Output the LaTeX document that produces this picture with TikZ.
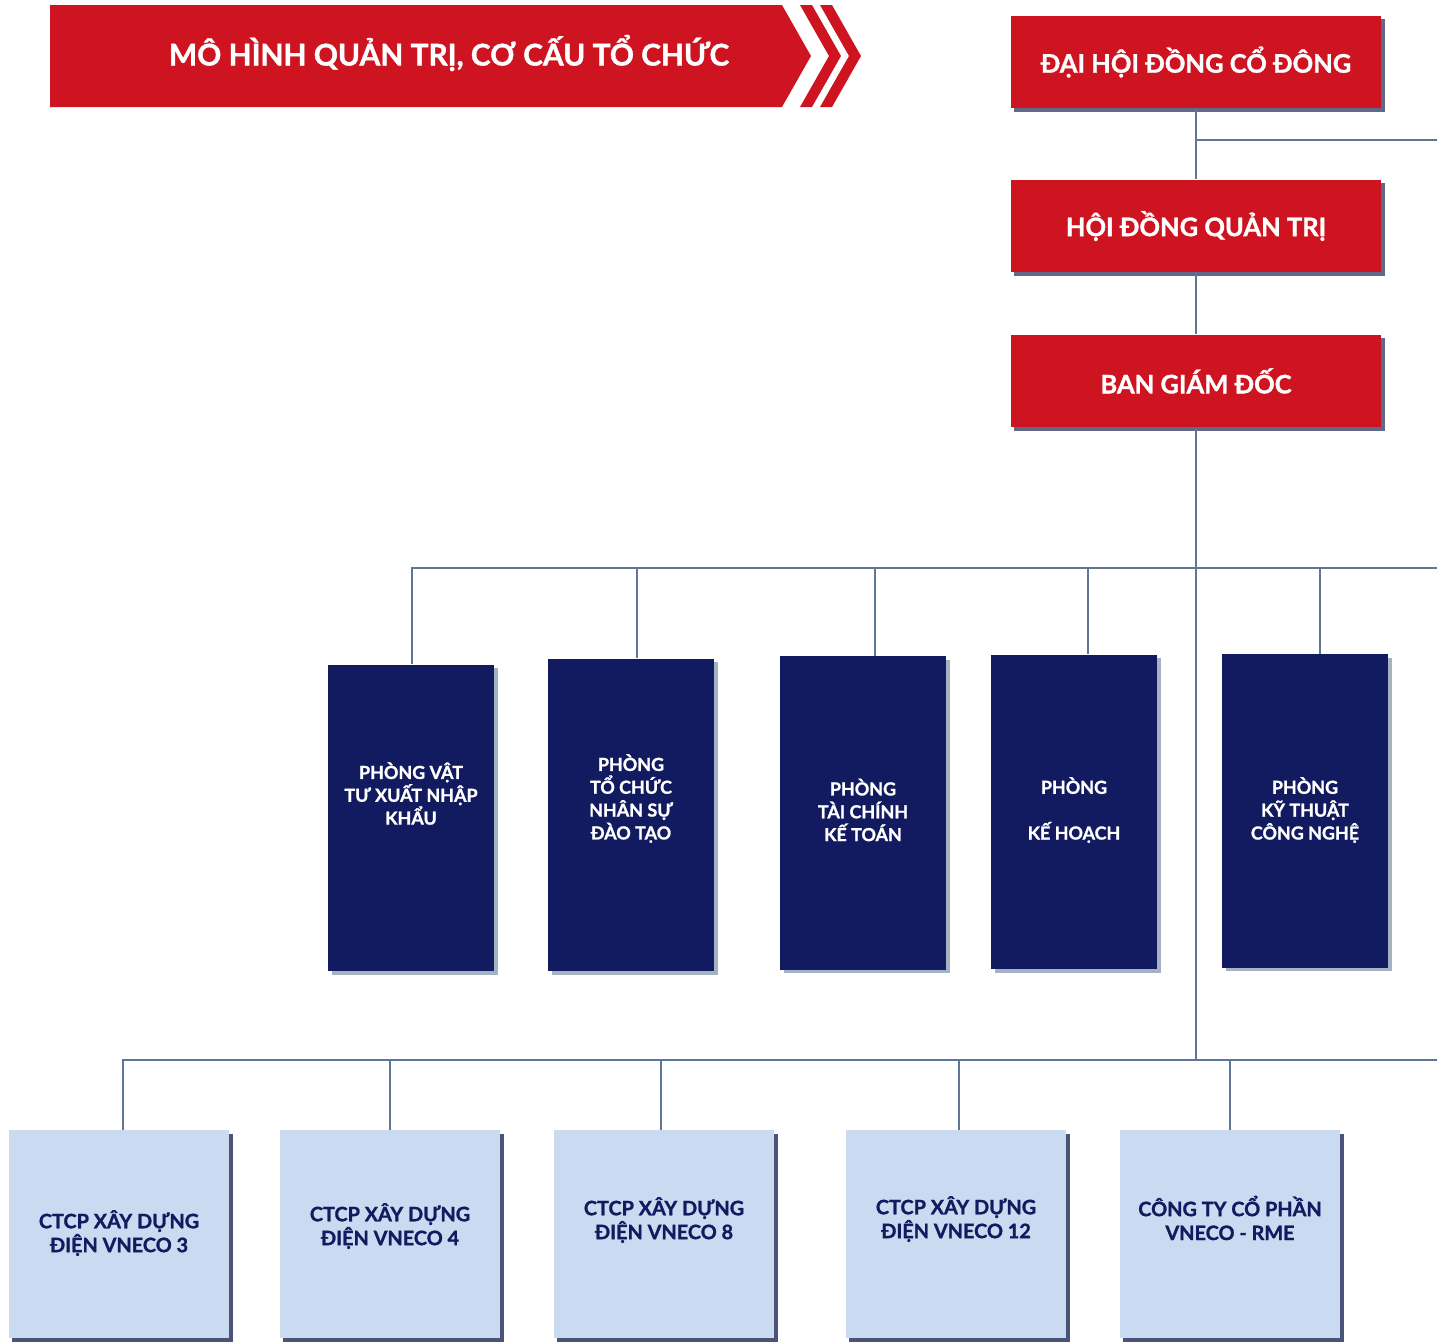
\documentclass[tikz,border=0pt]{standalone}
\usepackage{fontspec}
\setmainfont{Lato}[BoldFeatures={FakeBold=1.3}]
\usetikzlibrary{shadows}

\definecolor{vnred}{RGB}{206,20,32}
\definecolor{vnnavy}{RGB}{18,26,96}
\definecolor{vnlight}{RGB}{202,218,240}
\definecolor{vnline}{RGB}{96,118,150}
\definecolor{vnshade}{RGB}{44,54,96}

\tikzset{
	redbox/.style={fill=vnred, minimum width=7.42cm, minimum height=1.86cm, inner sep=0pt,
		text=white, font=\bfseries\fontsize{14.5}{16}\selectfont,
		drop shadow={shadow xshift=2pt, shadow yshift=-2pt, fill=vnshade, opacity=.75}},
	bluebox/.style={fill=vnnavy, minimum width=3.32cm, inner sep=0pt,
		drop shadow={shadow xshift=2pt, shadow yshift=-2pt, fill=vnline!70, opacity=.8}},
	bluetext/.style={text=white, align=center, inner sep=0pt, font=\bfseries\fontsize{10.2}{13}\selectfont},
	lightbox/.style={fill=vnlight, minimum width=4.42cm, minimum height=4.16cm, inner sep=0pt,
		drop shadow={shadow xshift=2pt, shadow yshift=-2pt, fill=vnshade, opacity=.85}},
	lighttext/.style={text=vnnavy, align=center, inner sep=0pt, font=\bfseries\fontsize{11.3}{13.6}\selectfont},
	link/.style={draw=vnline, line width=1.4pt}
}

\begin{document}
\begin{tikzpicture}[x=0.02cm, y=-0.02cm]
	\useasboundingbox (0,0) rectangle (1445,1343);

	% banner
	\fill[vnred] (50,5) -- (782,5) -- (811,56) -- (782,107) -- (50,107) -- cycle;
	\fill[vnred] (800,5) -- (812,5) -- (841,56) -- (812,107) -- (800,107) -- (829,56) -- cycle;
	\fill[vnred] (820,5) -- (832,5) -- (861,56) -- (832,107) -- (820,107) -- (849,56) -- cycle;
	\node[text=white, font=\bfseries\fontsize{17}{18}\selectfont] (title) at (449,53) {MÔ HÌNH QUẢN TRỊ, CƠ CẤU TỔ CHỨC};

	% ban lanh dao
	\node[redbox] (dhdcd) at (1196,62) {ĐẠI HỘI ĐỒNG CỔ ĐÔNG};
	\node[redbox] (hdqt) at (1196,226) {HỘI ĐỒNG QUẢN TRỊ};
	\node[redbox] (bgd) at (1196,381) {BAN GIÁM ĐỐC};

	% cac phong
	\node[bluebox, minimum height=6.14cm] (pvt) at (411,818) {};
	\node[bluebox, minimum height=6.26cm] (ptc) at (631,815) {};
	\node[bluebox, minimum height=6.28cm] (ptck) at (863,813) {};
	\node[bluebox, minimum height=6.30cm] (pkh) at (1074,812) {};
	\node[bluebox, minimum height=6.28cm] (pkt) at (1305,811) {};

	\node[bluetext] (tpvt) at ([yshift=0.49cm]pvt.center) {PHÒNG VẬT\\TƯ XUẤT NHẬP\\KHẨU};
	\node[bluetext] (tptc) at ([yshift=0.33cm]ptc.center) {PHÒNG\\TỔ CHỨC\\NHÂN SỰ\\ĐÀO TẠO};
	\node[bluetext] (tptck) at ([yshift=0.06cm]ptck.center) {PHÒNG\\TÀI CHÍNH\\KẾ TOÁN};
	\node[bluetext] (tpkh) at ([yshift=0.04cm]pkh.center) {PHÒNG\\[13pt]KẾ HOẠCH};
	\node[bluetext] (tpkt) at ([yshift=0.02cm]pkt.center) {PHÒNG\\KỸ THUẬT\\CÔNG NGHỆ};

	% cong ty con
	\node[lightbox] (vn3) at (119,1234) {};
	\node[lightbox] (vn4) at (390,1234) {};
	\node[lightbox] (vn8) at (664,1234) {};
	\node[lightbox] (vn12) at (956,1234) {};
	\node[lightbox] (rme) at (1230,1234) {};

	\node[lighttext] (tvn3) at ([yshift=0.02cm]vn3.center) {CTCP XÂY DỰNG\\ĐIỆN VNECO 3};
	\node[lighttext] (tvn4) at ([yshift=0.16cm]vn4.center) {CTCP XÂY DỰNG\\ĐIỆN VNECO 4};
	\node[lighttext] (tvn8) at ([yshift=0.28cm]vn8.center) {CTCP XÂY DỰNG\\ĐIỆN VNECO 8};
	\node[lighttext] (tvn12) at ([yshift=0.30cm]vn12.center) {CTCP XÂY DỰNG\\ĐIỆN VNECO 12};
	\node[lighttext] (trme) at ([yshift=0.32cm]rme.center) {CÔNG TY CỔ PHẦN\\VNECO - RME};

	% duong noi
	\coordinate (topR) at (1437,140);
	\coordinate (busU) at (1437,568);
	\coordinate (busL) at (1437,1060);

	\draw[link] (dhdcd.south) -- (hdqt.north);
	\draw[link] (hdqt.south) -- (bgd.north);
	\draw[link] (dhdcd.south |- topR) -- (topR);
	\draw[link] (bgd.south) |- (busL);

	\draw[link] ([xshift=0.02cm]pvt.north) |- (busU);
	\draw[link] ([xshift=0.12cm]ptc.north) |- (busU);
	\draw[link] ([xshift=0.24cm]ptck.north) |- (busU);
	\draw[link] ([xshift=0.28cm]pkh.north) |- (busU);
	\draw[link] ([xshift=0.30cm]pkt.north) |- (busU);

	\draw[link] ([xshift=0.08cm]vn3.north) |- (busL);
	\draw[link] (vn4.north) |- (busL);
	\draw[link] ([xshift=-0.06cm]vn8.north) |- (busL);
	\draw[link] ([xshift=0.06cm]vn12.north) |- (busL);
	\draw[link] (rme.north) |- (busL);
\end{tikzpicture}
\end{document}
